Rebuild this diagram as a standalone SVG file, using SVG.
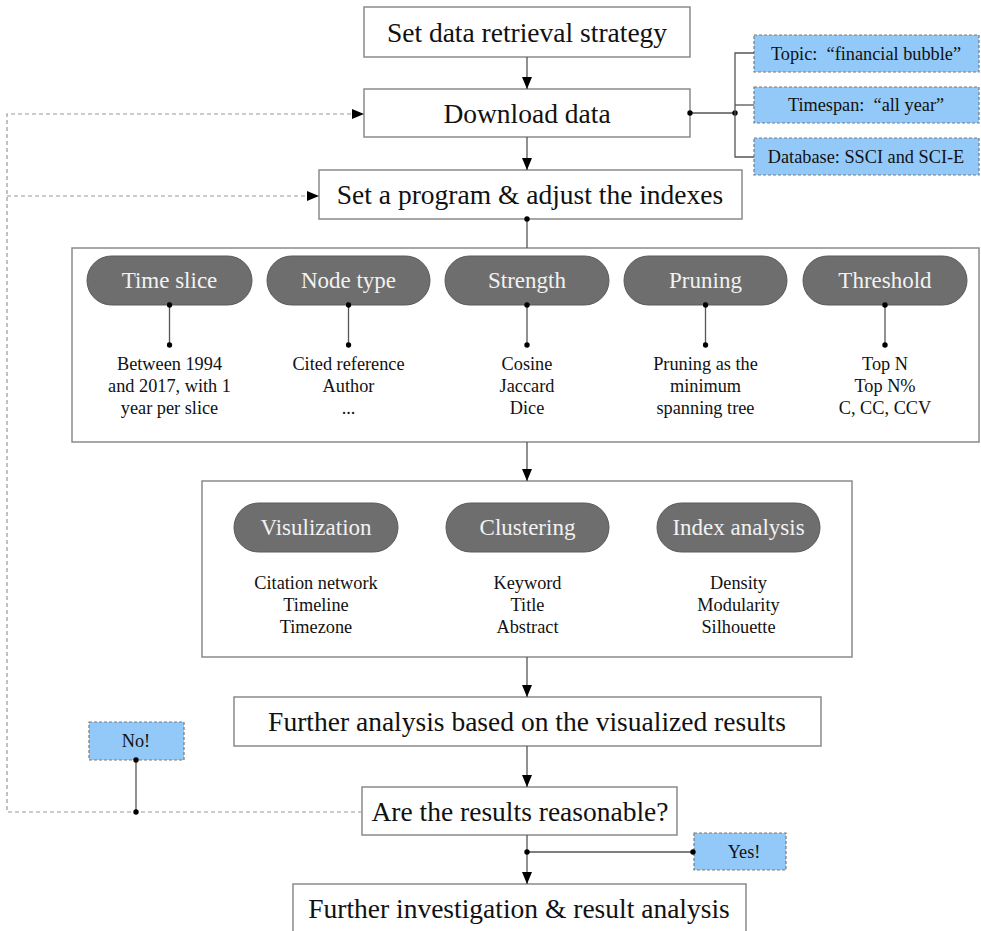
<svg xmlns="http://www.w3.org/2000/svg" width="981" height="931" viewBox="0 0 981 931">
<defs>
<marker id="arr" viewBox="0 0 12 10" refX="12" refY="5" markerWidth="12" markerHeight="10" markerUnits="userSpaceOnUse" orient="auto">
<path d="M0,0 L12,5 L0,10 Z" fill="#000"/>
</marker>
<marker id="dot" viewBox="0 0 6 6" refX="3" refY="3" markerWidth="6" markerHeight="6" markerUnits="userSpaceOnUse">
<circle cx="3" cy="3" r="2.7" fill="#000"/>
</marker>
</defs>
<style>
.box{fill:#fff;stroke:#8a8a8a;stroke-width:1.5}
.blue{fill:#92c9f8;stroke:#7a7a7a;stroke-width:1.2;stroke-dasharray:3 2}
.pill{fill:#6e6e6e;stroke:#5a5a5a;stroke-width:1}
.t{font-family:"Liberation Serif","Times New Roman",serif;fill:#111;text-anchor:middle}
.big{font-size:27.5px}
.sm{font-size:18.3px}
.pt{font-family:"Liberation Serif","Times New Roman",serif;fill:#f2f2f2;text-anchor:middle;font-size:23px}
.ln{fill:none;stroke:#555;stroke-width:1.3}
.dash{fill:none;stroke:#999;stroke-width:1.2;stroke-dasharray:4 3}
</style>
<rect width="981" height="931" fill="#fff"/>

<g id="n-strategy"><rect class="box" x="364" y="7" width="326" height="50"/><text class="t big" x="527" y="42">Set data retrieval strategy</text></g>
<g id="n-download"><rect class="box" x="364" y="89" width="326" height="48"/><text class="t big" x="527" y="123">Download data</text></g>
<g id="n-topic"><rect class="blue" x="754" y="35" width="225" height="37"/><text class="t sm" x="866" y="60">Topic:&#160;&#160;“financial bubble”</text></g>
<g id="n-timespan"><rect class="blue" x="754" y="87" width="225" height="36"/><text class="t sm" x="866" y="111">Timespan:&#160;&#160;“all year”</text></g>
<g id="n-database"><rect class="blue" x="754" y="138" width="225" height="37"/><text class="t sm" x="866" y="163">Database: SSCI and SCI-E</text></g>
<g id="n-program"><rect class="box" x="319" y="170" width="423" height="49"/><text class="t big" x="530" y="204">Set a program &amp; adjust the indexes</text></g>

<g id="n-params">
<rect class="box" x="72" y="248" width="907" height="194"/>
<rect class="pill" x="87" y="256" width="165" height="49" rx="24.5"/><text class="pt" x="169.5" y="288">Time slice</text>
<rect class="pill" x="267" y="256" width="163" height="49" rx="24.5"/><text class="pt" x="348.5" y="288">Node type</text>
<rect class="pill" x="445" y="256" width="164" height="49" rx="24.5"/><text class="pt" x="527" y="288">Strength</text>
<rect class="pill" x="624" y="256" width="163" height="49" rx="24.5"/><text class="pt" x="705.5" y="288">Pruning</text>
<rect class="pill" x="803" y="256" width="164" height="49" rx="24.5"/><text class="pt" x="885" y="288">Threshold</text>
<text class="t sm" x="169.5" y="370">Between 1994</text><text class="t sm" x="169.5" y="392">and 2017, with 1</text><text class="t sm" x="169.5" y="414">year per slice</text>
<text class="t sm" x="348.5" y="370">Cited reference</text><text class="t sm" x="348.5" y="392">Author</text><text class="t sm" x="348.5" y="414">...</text>
<text class="t sm" x="527" y="370">Cosine</text><text class="t sm" x="527" y="392">Jaccard</text><text class="t sm" x="527" y="414">Dice</text>
<text class="t sm" x="705.5" y="370">Pruning as the</text><text class="t sm" x="705.5" y="392">minimum</text><text class="t sm" x="705.5" y="414">spanning tree</text>
<text class="t sm" x="885" y="370">Top N</text><text class="t sm" x="885" y="392">Top N%</text><text class="t sm" x="885" y="414">C, CC, CCV</text>
</g>

<g id="n-analysis">
<rect class="box" x="202" y="481" width="650" height="176"/>
<rect class="pill" x="234" y="503" width="164" height="49" rx="24.5"/><text class="pt" x="316" y="535">Visulization</text>
<rect class="pill" x="446" y="503" width="163" height="49" rx="24.5"/><text class="pt" x="527.5" y="535">Clustering</text>
<rect class="pill" x="657" y="503" width="163" height="49" rx="24.5"/><text class="pt" x="738.5" y="535">Index analysis</text>
<text class="t sm" x="316" y="589">Citation network</text><text class="t sm" x="316" y="611">Timeline</text><text class="t sm" x="316" y="633">Timezone</text>
<text class="t sm" x="527.5" y="589">Keyword</text><text class="t sm" x="527.5" y="611">Title</text><text class="t sm" x="527.5" y="633">Abstract</text>
<text class="t sm" x="738.5" y="589">Density</text><text class="t sm" x="738.5" y="611">Modularity</text><text class="t sm" x="738.5" y="633">Silhouette</text>
</g>

<g id="n-further"><rect class="box" x="234" y="697" width="587" height="49"/><text class="t big" x="527" y="731">Further analysis based on the visualized results</text></g>
<g id="n-no"><rect class="blue" x="89" y="722" width="95" height="38"/><text class="t sm" x="136" y="747">No!</text></g>
<g id="n-reasonable"><rect class="box" x="362" y="787" width="315" height="48"/><text class="t big" x="520" y="821">Are the results reasonable?</text></g>
<g id="n-yes"><rect class="blue" x="694" y="833" width="92" height="37"/><text class="t sm" x="744" y="858">Yes!</text></g>
<g id="n-final"><rect class="box" x="293" y="884" width="453" height="60"/><text class="t big" x="519" y="918">Further investigation &amp; result analysis</text></g>

<g id="connectors">
<line class="ln" x1="527" y1="57" x2="527" y2="89" marker-end="url(#arr)"/>
<line class="ln" x1="527" y1="137" x2="527" y2="170" marker-end="url(#arr)"/>
<line class="ln" x1="527" y1="219" x2="527" y2="248" marker-start="url(#dot)"/>
<line class="ln" x1="527" y1="442" x2="527" y2="481" marker-end="url(#arr)"/>
<line class="ln" x1="527" y1="657" x2="527" y2="697" marker-end="url(#arr)"/>
<line class="ln" x1="527" y1="746" x2="527" y2="787" marker-end="url(#arr)"/>
<line class="ln" x1="527" y1="835" x2="527" y2="884" marker-end="url(#arr)"/>
<line class="ln" x1="527" y1="852" x2="693" y2="852" marker-start="url(#dot)" marker-end="url(#dot)"/>
<polyline class="ln" points="690,113 735,113" marker-start="url(#dot)" marker-end="url(#dot)"/>
<polyline class="ln" points="754,53 735,53 735,157 754,157"/>
<line class="ln" x1="735" y1="105" x2="754" y2="105"/>
<polyline class="dash" points="362,812 7,812 7,114 352,114"/>
<line class="dash" x1="7" y1="196" x2="307" y2="196"/>
<path d="M352,109 L364,114 L352,119 Z" fill="#000"/>
<path d="M307,191 L319,196 L307,201 Z" fill="#000"/>
<line class="ln" x1="136" y1="760" x2="136" y2="812" marker-start="url(#dot)" marker-end="url(#dot)"/>
<line class="ln" x1="169.5" y1="305" x2="169.5" y2="345" marker-start="url(#dot)" marker-end="url(#dot)"/>
<line class="ln" x1="348.5" y1="305" x2="348.5" y2="345" marker-start="url(#dot)" marker-end="url(#dot)"/>
<line class="ln" x1="527" y1="305" x2="527" y2="345" marker-start="url(#dot)" marker-end="url(#dot)"/>
<line class="ln" x1="705.5" y1="305" x2="705.5" y2="345" marker-start="url(#dot)" marker-end="url(#dot)"/>
<line class="ln" x1="885" y1="305" x2="885" y2="345" marker-start="url(#dot)" marker-end="url(#dot)"/>
</g>
</svg>
